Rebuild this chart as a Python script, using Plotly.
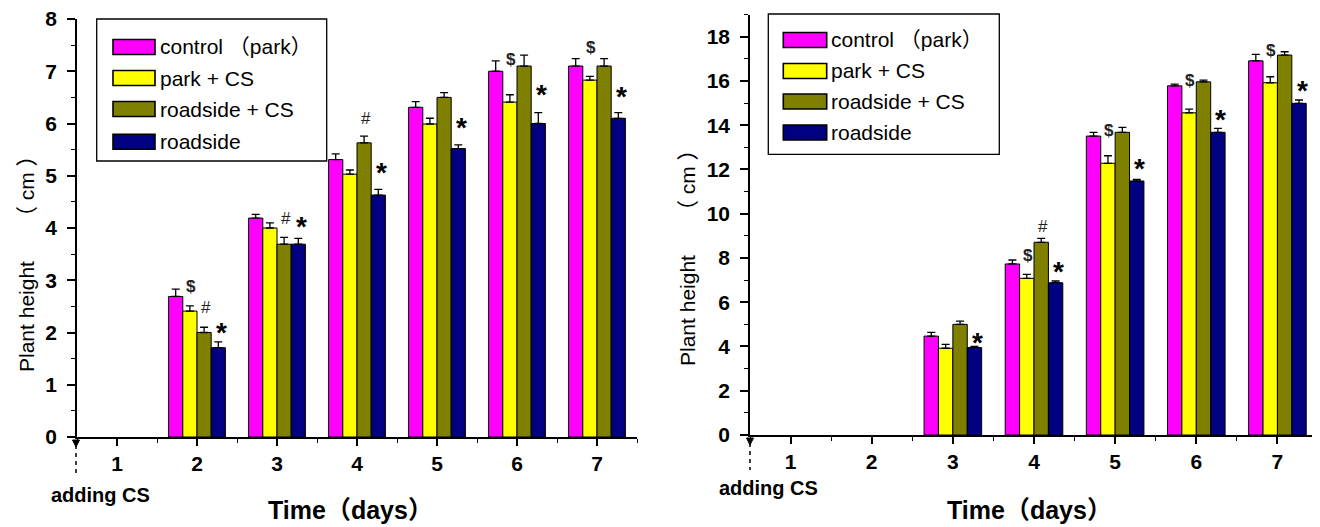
import plotly.graph_objects as go

W, H = 1320, 527

series_names = ["control （park）", "park + CS", "roadside + CS", "roadside"]
colors = ["#FF00FF", "#FFFF00", "#808000", "#000080"]

# Left chart
days_left = [2, 3, 4, 5, 6, 7]
left_control = [2.69, 4.19, 5.31, 6.31, 7.00, 7.10]
left_park_cs = [2.41, 4.00, 5.03, 5.99, 6.41, 6.83]
left_road_cs = [2.00, 3.69, 5.63, 6.50, 7.10, 7.10]
left_road = [1.71, 3.69, 4.63, 5.52, 6.00, 6.10]
left_err_control = [0.14, 0.07, 0.11, 0.11, 0.20, 0.14]
left_err_park_cs = [0.10, 0.10, 0.08, 0.11, 0.14, 0.07]
left_err_road_cs = [0.10, 0.13, 0.13, 0.09, 0.21, 0.14]
left_err_road = [0.11, 0.11, 0.11, 0.07, 0.21, 0.11]

# Right chart
days_right = [3, 4, 5, 6, 7]
right_control = [4.47, 7.73, 13.51, 15.78, 16.91]
right_park_cs = [3.92, 7.08, 12.28, 14.56, 15.92]
right_road_cs = [5.00, 8.71, 13.68, 15.96, 17.17]
right_road = [3.95, 6.88, 11.48, 13.68, 14.99]
right_err_control = [0.17, 0.18, 0.17, 0.08, 0.29]
right_err_park_cs = [0.18, 0.18, 0.34, 0.17, 0.27]
right_err_road_cs = [0.15, 0.18, 0.22, 0.08, 0.15]
right_err_road = [0.05, 0.08, 0.07, 0.18, 0.15]

# significance marks: (day, series index, symbol, height)
left_marks = [
    (2, 1, "$", 2.88), (2, 2, "#", 2.47), (2, 3, "*", 2.12),
    (3, 2, "#", 4.19), (3, 3, "*", 4.15),
    (4, 2, "#", 6.10), (4, 3, "*", 5.17),
    (5, 3, "*", 6.03),
    (6, 1, "$", 7.22), (6, 3, "*", 6.67),
    (7, 1, "$", 7.45), (7, 3, "*", 6.63),
]
right_marks = [
    (3, 3, "*", 4.44),
    (4, 1, "$", 8.13), (4, 2, "#", 9.41), (4, 3, "*", 7.68),
    (5, 1, "$", 13.78), (5, 3, "*", 12.30),
    (6, 1, "$", 16.04), (6, 3, "*", 14.54),
    (7, 1, "$", 17.40), (7, 3, "*", 15.82),
]

x_ticks = [1, 2, 3, 4, 5, 6, 7]
x_title = "Time（days）"
y_title_main = "Plant height"
y_title_unit = "cm"
note = "adding CS"

BARGAP = 0.29
bar_w = (1 - BARGAP) / 4

FONT = "Liberation Sans, Arial, Noto Sans CJK SC, sans-serif"
CJK = "Noto Sans CJK SC"


def cjk(s, size):
    return f"<span style=\"font-family:'{CJK}';font-size:{size}px\">{s}</span>"


y_title_html = y_title_main + cjk("\u3000\u3000（", 22) + " " + y_title_unit + " " + cjk("）", 22)

# page body has a default 8px margin; screen px -> paper
OFF = 8


def px(xp):
    return (xp - OFF) / W


def py(yp):
    return 1 - (yp - OFF) / H


fig = go.Figure()

left_vals = [left_control, left_park_cs, left_road_cs, left_road]
left_errs = [left_err_control, left_err_park_cs, left_err_road_cs, left_err_road]
right_vals = [right_control, right_park_cs, right_road_cs, right_road]
right_errs = [right_err_control, right_err_park_cs, right_err_road_cs, right_err_road]

for xa, ya, days, vals, errs in [("x", "y", days_left, left_vals, left_errs),
                                 ("x2", "y2", days_right, right_vals, right_errs)]:
    for i in range(4):
        fig.add_trace(go.Bar(
            x=days, y=vals[i], name=series_names[i],
            xaxis=xa, yaxis=ya, offsetgroup=str(i),
            marker=dict(color=colors[i], line=dict(color="black", width=1)),
            error_y=dict(type="data", symmetric=False, array=errs[i],
                         arrayminus=[0] * len(days), color="black",
                         thickness=1.3, width=4),
            showlegend=False,
        ))

left_dom_x = [px(77), px(637)]
left_dom_y = [py(437), py(19)]
right_dom_x = [px(750), px(1318)]
right_dom_y = [py(435), py(14.6)]

axis_common = dict(showline=True, linecolor="black", linewidth=1.6, ticks="outside",
                   tickcolor="black", tickwidth=1.5, showgrid=False, zeroline=False,
                   automargin=False, ticklabeloverflow="allow",
                   tickfont=dict(family=FONT, size=21, color="black", weight="bold"))
minor_common = dict(ticks="outside", tickcolor="black", tickwidth=1.3, ticklen=4, showgrid=False)

fig.update_layout(
    template="none",
    width=W, height=H, autosize=False,
    margin=dict(l=0, r=0, t=0, b=0, pad=0),
    paper_bgcolor="white", plot_bgcolor="white",
    barmode="group", bargap=BARGAP, bargroupgap=0,
    showlegend=False,
    xaxis=dict(domain=left_dom_x, anchor="y", range=[0.5, 7.5], tickvals=x_ticks,
               ticklen=7, minor=dict(dtick=0.5, tick0=0.5, **minor_common),
               ticklabelstandoff=0, **axis_common),
    yaxis=dict(domain=left_dom_y, anchor="x", range=[0, 8], dtick=1, tick0=0,
               ticklen=8, minor=dict(dtick=0.5, **minor_common),
               ticklabelstandoff=6, **axis_common),
    xaxis2=dict(domain=right_dom_x, anchor="y2", range=[0.5, 7.5], tickvals=x_ticks,
                ticklen=7, minor=dict(dtick=0.5, tick0=0.5, **minor_common),
                ticklabelstandoff=0, **axis_common),
    yaxis2=dict(domain=right_dom_y, anchor="x2", range=[0, 19], dtick=2, tick0=0,
                ticklen=8, minor=dict(dtick=1, **minor_common),
                ticklabelstandoff=6, **axis_common),
)

annotations = []
shapes = []

# significance marks
for xa, ya, marks in [("x", "y", left_marks), ("x2", "y2", right_marks)]:
    for day, idx, sym, hv in marks:
        xpos = day + (idx - 1.5) * bar_w
        if sym == "*":
            f = dict(family=FONT, size=28, color="black", weight="bold")
            ys, xs = -6, 3
        elif sym == "$":
            f = dict(family=FONT, size=17, color="#222222", weight="bold")
            ys, xs = 0, 1
        else:
            f = dict(family=FONT, size=17, color="#222222")
            ys, xs = 0, 2
        annotations.append(dict(x=xpos, y=hv, xref=xa, yref=ya, text=sym, showarrow=False,
                                font=f, xanchor="center", yanchor="middle",
                                yshift=ys, xshift=xs))

# axis titles and notes
for cx, cy_bottom, tx0, tcy, ncx, ncy in [(24, 374, 266, 510, 100, 495),
                                          (685, 368, 945, 510, 768, 488)]:
    annotations.append(dict(x=px(cx), y=py(cy_bottom), xref="paper", yref="paper",
                            text=y_title_html,
                            textangle=-90, showarrow=False, xanchor="center", yanchor="bottom",
                            font=dict(family=FONT, size=21, color="black")))
    annotations.append(dict(x=px(tx0), y=py(tcy), xref="paper", yref="paper", text=x_title,
                            showarrow=False, xanchor="left", yanchor="middle",
                            font=dict(family=FONT, size=25, color="black", weight="bold")))
    annotations.append(dict(x=px(ncx), y=py(ncy), xref="paper", yref="paper", text=note,
                            showarrow=False, xanchor="center", yanchor="middle",
                            font=dict(family=FONT, size=20, color="black", weight="bold")))

# dashed markers + arrowheads
for ax_x, y0, y1 in [(76, 440, 474), (750, 438, 470)]:
    shapes.append(dict(type="line", xref="paper", yref="paper", x0=px(ax_x), x1=px(ax_x),
                       y0=py(y0 + 5), y1=py(y1), line=dict(color="black", width=1.5, dash="4px,4px")))
    shapes.append(dict(type="path", xref="paper", yref="paper",
                       path=f"M {px(ax_x-3.5)} {py(y0)} L {px(ax_x+3.5)} {py(y0)} L {px(ax_x)} {py(y0+7)} Z",
                       fillcolor="black", line=dict(color="black", width=1)))

# manual legends
legends = [
    dict(box=(96.7, 19, 326.7, 161), sw=(113, 155), rows=[47, 78, 109, 141.7], tx=158),
    dict(box=(768.3, 14, 999.3, 154.3), sw=(783.3, 826.7), rows=[40, 71, 101.5, 132.5], tx=829),
]
for lg in legends:
    x0, y0, x1, y1 = lg["box"]
    shapes.append(dict(type="rect", xref="paper", yref="paper", x0=px(x0), x1=px(x1),
                       y0=py(y1), y1=py(y0), line=dict(color="black", width=1.3),
                       fillcolor="rgba(0,0,0,0)"))
    for i, ry in enumerate(lg["rows"]):
        shapes.append(dict(type="rect", xref="paper", yref="paper",
                           x0=px(lg["sw"][0]), x1=px(lg["sw"][1]),
                           y0=py(ry + 7.5), y1=py(ry - 7.5),
                           line=dict(color="black", width=1.6), fillcolor=colors[i]))
        annotations.append(dict(x=px(lg["tx"]), y=py(ry), xref="paper", yref="paper",
                                text=series_names[i], showarrow=False, xanchor="left",
                                yanchor="middle",
                                font=dict(family=FONT, size=21, color="black")))

fig.update_layout(annotations=annotations, shapes=shapes)

fig.write_html("out.html")
